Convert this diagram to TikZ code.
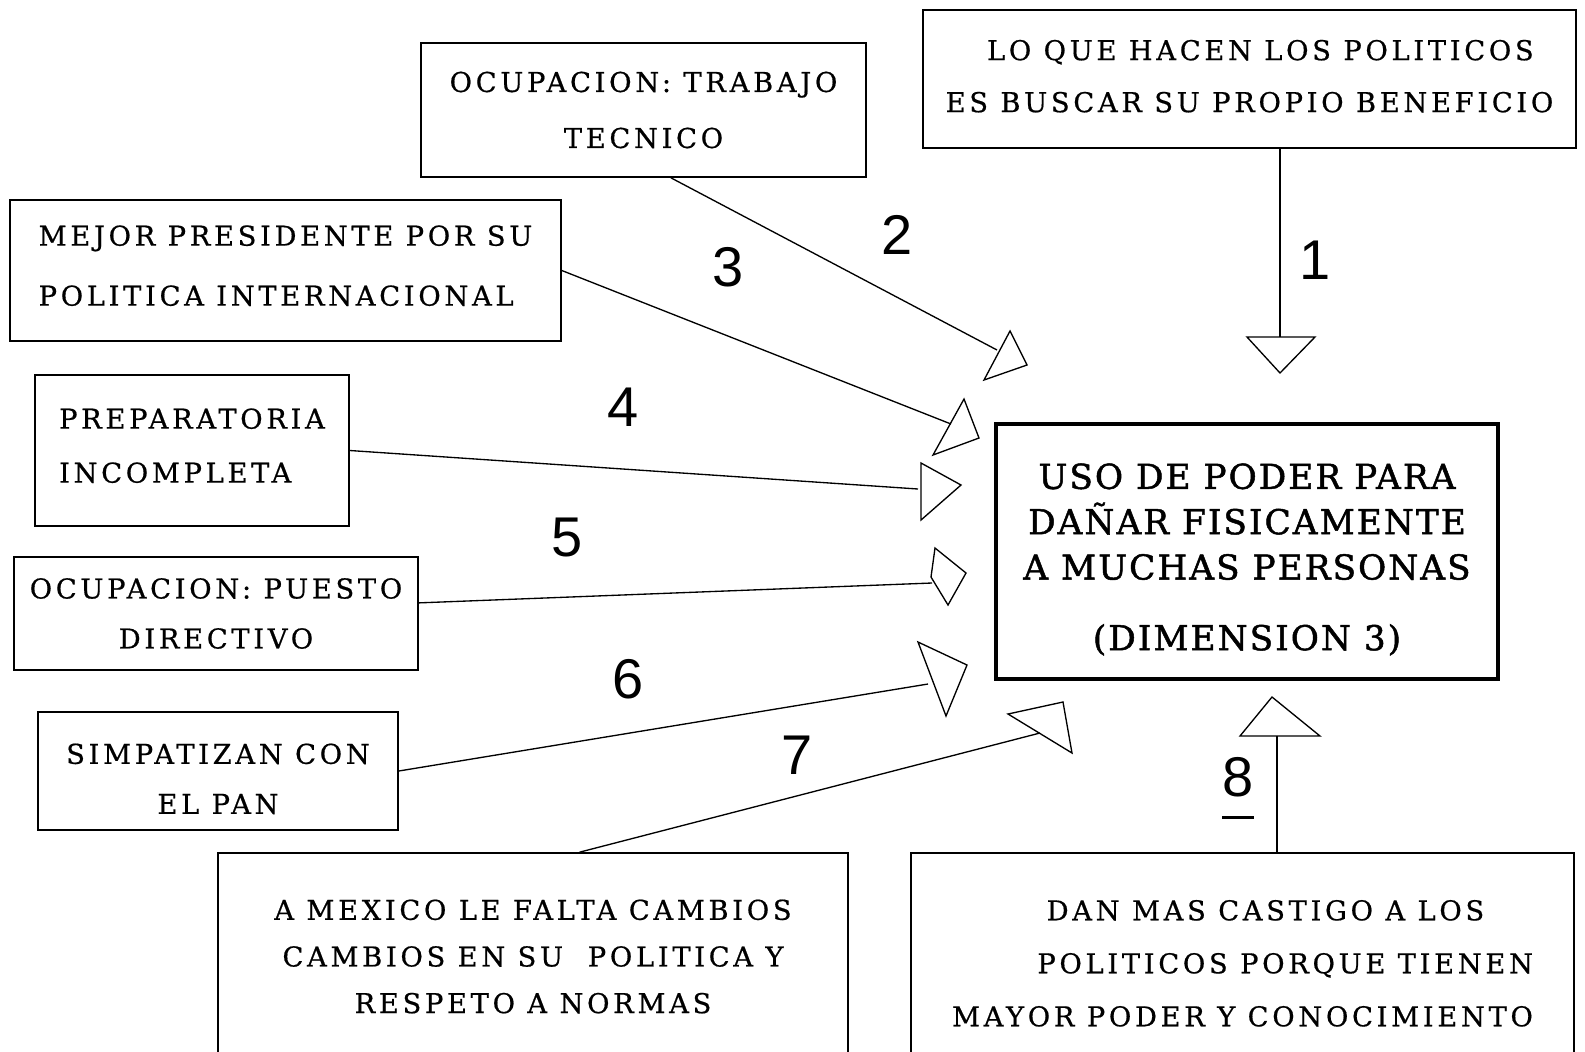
\documentclass[tikz,border=0pt]{standalone}
\usepackage{fontspec}
\newfontfamily\boxfont{DejaVu Serif}[LetterSpace=13.5,FakeBold=0.6]
\newfontfamily\corefont{DejaVu Serif}[LetterSpace=6,FakeBold=1.4]
\newfontfamily\numfont{Liberation Sans}

\tikzset{every picture/.style={line width=0.75pt}}
\tikzset{
  causebox/.style={draw, line width=1.2pt, align=center, inner sep=0pt, font=\boxfont\fontsize{20.5}{#1}\selectfont},
  causebox/.default=39,
  corebox/.style={draw, line width=2.6pt, align=center, inner sep=0pt, font=\corefont\fontsize{25.7}{34}\selectfont},
  link/.style={line width=1pt},
  tiphead/.style={line width=1pt, line join=miter},
  num/.style={font=\numfont\fontsize{42}{42}\selectfont},
}

\begin{document}
\begin{tikzpicture}[x=0.75pt,y=0.75pt,yscale=-1,xscale=1]
\useasboundingbox (0,0) rectangle (1585,1051);
\path[fill=white] (0,0) rectangle (1585,1051);

%Shape: Rectangle [core]
\node[corebox, minimum width=376.5pt, minimum height=191.25pt] (core) at (1247,551.5)
  {\rule{0pt}{31pt}USO DE PODER PARA\\DAÑAR FISICAMENTE\\A MUCHAS PERSONAS\\[19pt](DIMENSION 3)};

%Shape: Rectangle [causes]
\node[causebox=39, align=left, minimum width=489.75pt, minimum height=103.5pt] (b1) at (1249.5,79)
  {\hspace*{31pt}LO QUE HACEN LOS POLITICOS\\ES BUSCAR SU PROPIO BENEFICIO\rule[-4.5pt]{0pt}{4.5pt}};
\node[causebox=42, minimum width=333.75pt, minimum height=100.5pt] (b2) at (643.5,110)
  {OCUPACION: TRABAJO\\TECNICO};
\node[causebox=45, align=left, minimum width=413.25pt, minimum height=105.75pt] (b3) at (285.5,270.5)
  {MEJOR PRESIDENTE POR SU\\POLITICA INTERNACIONAL\rule[-7.5pt]{0pt}{7.5pt}};
\node[causebox=40.5, align=left, minimum width=235.5pt, minimum height=113.25pt] (b4) at (192,450.5)
  {PREPARATORIA\\INCOMPLETA\rule[-7.5pt]{0pt}{7.5pt}};
\node[causebox=37.5, minimum width=303pt, minimum height=84.75pt] (b5) at (216,613.5)
  {OCUPACION: PUESTO\\DIRECTIVO};
\node[causebox=37.5, minimum width=270pt, minimum height=88.5pt] (b6) at (218,771)
  {\rule{0pt}{27pt}SIMPATIZAN CON\\EL PAN};
\node[causebox=35, minimum width=472.5pt, minimum height=155.25pt] (b7) at (533,956.5)
  {A MEXICO LE FALTA CAMBIOS\\CAMBIOS EN SU \ POLITICA Y\\RESPETO A NORMAS};
\node[causebox=39.75, align=left, minimum width=497.25pt, minimum height=155.25pt] (b8) at (1242.5,956.5)
  {\rule{0pt}{25.5pt}\hspace*{71pt}DAN MAS CASTIGO A LOS\\\hspace*{64pt}POLITICOS PORQUE TIENEN\\MAYOR PODER Y CONOCIMIENTO};

%Straight Lines [links]
\coordinate (e1) at (1280,337);
\coordinate (e2) at (997,350);
\coordinate (e3) at (951,424);
\coordinate (e4) at (918,489);
\coordinate (e5) at (932,583);
\coordinate (e6) at (928,684);
\coordinate (e7) at (1040,733);
\coordinate (e8) at (1277,736);
\draw[link] (b1.south -| e1) -- (e1);
\draw[link] (b2.-68) -- (e2);
\draw[link] (b3.east) -- (e3);
\draw[link] (b4.east) -- (e4);
\draw[link] (b5.3) -- (e5);
\draw[link] (b6.east) -- (e6);
\draw[link] (b7.66) -- (e7);
\draw[link] (b8.north -| e8) -- (e8);

%Shape: Triangle [heads]
\draw[tiphead] (1247,337) -- (1315,337) -- (1280,373) -- cycle;
\draw[tiphead] (1010,331) -- (1027,365) -- (984,380) -- cycle;
\draw[tiphead] (964,399) -- (979,438) -- (933,455) -- cycle;
\draw[tiphead] (921,463) -- (961,485) -- (921,520) -- cycle;
\draw[tiphead] (935,548) -- (966,573) -- (948,605) -- (931,577) -- cycle;
\draw[tiphead] (918,642) -- (967,665) -- (946,716) -- cycle;
\draw[tiphead] (1008,714) -- (1063,702) -- (1072,753) -- cycle;
\draw[tiphead] (1240,736) -- (1320,736) -- (1272,697) -- cycle;

% Text Node
\node[num] (n1) at (1315,260) {1};
\node[num] (n2) at (897,235) {2};
\node[num] (n3) at (728,267) {3};
\node[num] (n4) at (623,407) {4};
\node[num] (n5) at (567,537) {5};
\node[num] (n6) at (628,679) {6};
\node[num] (n7) at (797,755) {7};
\node[num] (n8) at (1238,777) {8};
\draw[line width=2.2pt] ([xshift=-12pt,yshift=12pt]n8.south) -- ([xshift=12pt,yshift=12pt]n8.south);

\end{tikzpicture}
\end{document}
